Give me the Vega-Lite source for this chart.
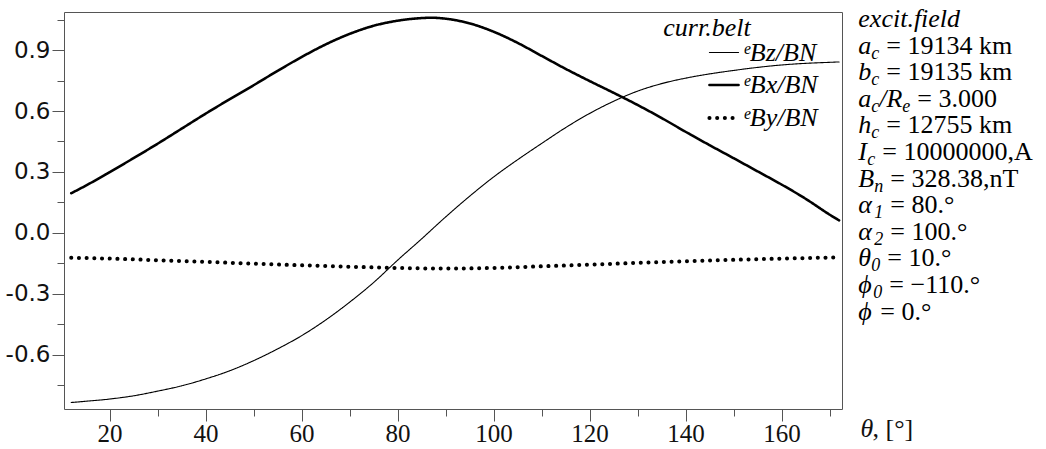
{
  "$schema": "https://vega.github.io/schema/vega-lite/v6.json",
  "autosize": {"type": "none"},
  "width": 778,
  "height": 397,
  "padding": {"left": 64, "top": 12, "right": 204, "bottom": 40},
  "background": "white",
  "config": {
    "view": {"stroke": "#555", "strokeWidth": 1},
    "axis": {"grid": false, "domain": false, "tickColor": "#555", "tickWidth": 1, "labelColor": "#111"}
  },
  "datasets": {
    "curves": [
      {"theta": 12, "s": "ᵉBz/BN", "v": -0.836},
      {"theta": 15, "s": "ᵉBz/BN", "v": -0.830},
      {"theta": 20, "s": "ᵉBz/BN", "v": -0.819},
      {"theta": 25, "s": "ᵉBz/BN", "v": -0.803},
      {"theta": 30, "s": "ᵉBz/BN", "v": -0.780},
      {"theta": 35, "s": "ᵉBz/BN", "v": -0.754},
      {"theta": 40, "s": "ᵉBz/BN", "v": -0.720},
      {"theta": 45, "s": "ᵉBz/BN", "v": -0.680},
      {"theta": 50, "s": "ᵉBz/BN", "v": -0.630},
      {"theta": 55, "s": "ᵉBz/BN", "v": -0.572},
      {"theta": 60, "s": "ᵉBz/BN", "v": -0.507},
      {"theta": 65, "s": "ᵉBz/BN", "v": -0.430},
      {"theta": 70, "s": "ᵉBz/BN", "v": -0.342},
      {"theta": 75, "s": "ᵉBz/BN", "v": -0.245},
      {"theta": 80, "s": "ᵉBz/BN", "v": -0.135},
      {"theta": 85, "s": "ᵉBz/BN", "v": -0.030},
      {"theta": 90, "s": "ᵉBz/BN", "v": 0.078},
      {"theta": 95, "s": "ᵉBz/BN", "v": 0.180},
      {"theta": 100, "s": "ᵉBz/BN", "v": 0.275},
      {"theta": 105, "s": "ᵉBz/BN", "v": 0.360},
      {"theta": 110, "s": "ᵉBz/BN", "v": 0.440},
      {"theta": 115, "s": "ᵉBz/BN", "v": 0.518},
      {"theta": 120, "s": "ᵉBz/BN", "v": 0.588},
      {"theta": 125, "s": "ᵉBz/BN", "v": 0.648},
      {"theta": 130, "s": "ᵉBz/BN", "v": 0.698},
      {"theta": 135, "s": "ᵉBz/BN", "v": 0.735},
      {"theta": 140, "s": "ᵉBz/BN", "v": 0.762},
      {"theta": 145, "s": "ᵉBz/BN", "v": 0.783},
      {"theta": 150, "s": "ᵉBz/BN", "v": 0.800},
      {"theta": 155, "s": "ᵉBz/BN", "v": 0.815},
      {"theta": 160, "s": "ᵉBz/BN", "v": 0.827},
      {"theta": 165, "s": "ᵉBz/BN", "v": 0.835},
      {"theta": 170, "s": "ᵉBz/BN", "v": 0.840},
      {"theta": 172, "s": "ᵉBz/BN", "v": 0.842},
      {"theta": 12, "s": "ᵉBx/BN", "v": 0.195},
      {"theta": 15, "s": "ᵉBx/BN", "v": 0.232},
      {"theta": 20, "s": "ᵉBx/BN", "v": 0.299},
      {"theta": 25, "s": "ᵉBx/BN", "v": 0.368},
      {"theta": 30, "s": "ᵉBx/BN", "v": 0.439},
      {"theta": 35, "s": "ᵉBx/BN", "v": 0.513},
      {"theta": 40, "s": "ᵉBx/BN", "v": 0.587},
      {"theta": 45, "s": "ᵉBx/BN", "v": 0.658},
      {"theta": 50, "s": "ᵉBx/BN", "v": 0.727},
      {"theta": 55, "s": "ᵉBx/BN", "v": 0.798},
      {"theta": 60, "s": "ᵉBx/BN", "v": 0.866},
      {"theta": 65, "s": "ᵉBx/BN", "v": 0.928},
      {"theta": 70, "s": "ᵉBx/BN", "v": 0.980},
      {"theta": 75, "s": "ᵉBx/BN", "v": 1.020},
      {"theta": 80, "s": "ᵉBx/BN", "v": 1.045},
      {"theta": 85, "s": "ᵉBx/BN", "v": 1.058},
      {"theta": 87, "s": "ᵉBx/BN", "v": 1.060},
      {"theta": 90, "s": "ᵉBx/BN", "v": 1.055},
      {"theta": 95, "s": "ᵉBx/BN", "v": 1.032},
      {"theta": 100, "s": "ᵉBx/BN", "v": 0.991},
      {"theta": 105, "s": "ᵉBx/BN", "v": 0.936},
      {"theta": 110, "s": "ᵉBx/BN", "v": 0.872},
      {"theta": 115, "s": "ᵉBx/BN", "v": 0.808},
      {"theta": 120, "s": "ᵉBx/BN", "v": 0.748},
      {"theta": 125, "s": "ᵉBx/BN", "v": 0.690},
      {"theta": 130, "s": "ᵉBx/BN", "v": 0.630},
      {"theta": 135, "s": "ᵉBx/BN", "v": 0.566},
      {"theta": 140, "s": "ᵉBx/BN", "v": 0.498},
      {"theta": 145, "s": "ᵉBx/BN", "v": 0.432},
      {"theta": 150, "s": "ᵉBx/BN", "v": 0.368},
      {"theta": 155, "s": "ᵉBx/BN", "v": 0.303},
      {"theta": 160, "s": "ᵉBx/BN", "v": 0.238},
      {"theta": 165, "s": "ᵉBx/BN", "v": 0.168},
      {"theta": 170, "s": "ᵉBx/BN", "v": 0.090},
      {"theta": 172, "s": "ᵉBx/BN", "v": 0.061},
      {"theta": 12, "s": "ᵉBy/BN", "v": -0.123},
      {"theta": 20, "s": "ᵉBy/BN", "v": -0.127},
      {"theta": 30, "s": "ᵉBy/BN", "v": -0.135},
      {"theta": 40, "s": "ᵉBy/BN", "v": -0.143},
      {"theta": 50, "s": "ᵉBy/BN", "v": -0.152},
      {"theta": 60, "s": "ᵉBy/BN", "v": -0.160},
      {"theta": 70, "s": "ᵉBy/BN", "v": -0.167},
      {"theta": 80, "s": "ᵉBy/BN", "v": -0.173},
      {"theta": 90, "s": "ᵉBy/BN", "v": -0.176},
      {"theta": 100, "s": "ᵉBy/BN", "v": -0.173},
      {"theta": 110, "s": "ᵉBy/BN", "v": -0.165},
      {"theta": 120, "s": "ᵉBy/BN", "v": -0.157},
      {"theta": 130, "s": "ᵉBy/BN", "v": -0.148},
      {"theta": 140, "s": "ᵉBy/BN", "v": -0.140},
      {"theta": 150, "s": "ᵉBy/BN", "v": -0.133},
      {"theta": 160, "s": "ᵉBy/BN", "v": -0.127},
      {"theta": 172, "s": "ᵉBy/BN", "v": -0.121}
    ],
    "params": [
      {"line": 0, "s1": "excit.field", "b1": "", "s2": "", "b2": "", "r": ""},
      {"line": 1, "s1": "a", "b1": "c", "s2": "", "b2": "", "r": "= 19134 km"},
      {"line": 2, "s1": "b", "b1": "c", "s2": "", "b2": "", "r": "= 19135 km"},
      {"line": 3, "s1": "a", "b1": "c", "s2": "/R", "b2": "e", "r": "= 3.000"},
      {"line": 4, "s1": "h", "b1": "c", "s2": "", "b2": "", "r": "= 12755 km"},
      {"line": 5, "s1": "I", "b1": "c", "s2": "", "b2": "", "r": "= 10000000,A"},
      {"line": 6, "s1": "B", "b1": "n", "s2": "", "b2": "", "r": "= 328.38,nT"},
      {"line": 7, "s1": "α", "b1": "1", "s2": "", "b2": "", "r": "= 80.°"},
      {"line": 8, "s1": "α", "b1": "2", "s2": "", "b2": "", "r": "= 100.°"},
      {"line": 9, "s1": "θ", "b1": "0", "s2": "", "b2": "", "r": "= 10.°"},
      {"line": 10, "s1": "ϕ", "b1": "0", "s2": "", "b2": "", "r": "= −110.°"},
      {"line": 11, "s1": "ϕ", "b1": "", "s2": "", "b2": "", "r": "= 0.°"}
    ]
  },
  "layer": [
    {
      "data": {"name": "curves"},
      "mark": {"type": "line", "strokeCap": "round", "strokeJoin": "round", "interpolate": "monotone"},
      "encoding": {
        "x": {"field": "theta", "type": "quantitative",
          "scale": {"domain": [10.5, 172.6], "nice": false, "zero": false},
          "axis": {"values": [20, 40, 60, 80, 100, 120, 140, 160], "tickSize": 12, "labelFont": "Liberation Sans Narrow", "labelFontSize": 25, "labelPadding": 0, "labelFlush": false,
            "title": ", [°]", "titleFont": "Liberation Serif", "titleFontSize": 26, "titleFontWeight": "normal", "titleColor": "#111", "titleX": 808, "titleY": 27, "titleAlign": "left", "titleBaseline": "alphabetic", "titleAngle": 0}},
        "y": {"field": "v", "type": "quantitative",
          "scale": {"domain": [-0.868, 1.088], "nice": false, "zero": false},
          "axis": {"values": [-0.6, -0.3, 0, 0.3, 0.6, 0.9], "labelExpr": "replace(format(datum.value, '.1f'), '\u2212', '-')", "tickSize": 12, "labelFont": "DejaVu Sans", "labelFontSize": 23, "labelPadding": 2, "title": null}},
        "color": {"field": "s", "type": "ordinal",
          "scale": {"domain": ["ᵉBz/BN", "ᵉBx/BN", "ᵉBy/BN"], "range": ["#000", "#000", "#000"]},
          "legend": {"title": "curr.belt", "orient": "none", "legendX": 599, "legendY": 3,
            "symbolType": "stroke", "symbolSize": 850, "symbolStrokeColor": "#000",
            "titleFont": "Liberation Serif", "titleFontStyle": "italic", "titleFontSize": 26, "titleFontWeight": "normal", "titleColor": "#000", "titleAnchor": "start", "titleAlign": "center", "titlePadding": -4,
            "labelFont": "Liberation Serif", "labelFontStyle": "italic", "labelFontSize": 26, "labelColor": "#000", "labelOffset": 2, "rowPadding": 3,
            "encode": {"symbols": {"update": {"strokeCap": {"value": "round"}}}}}},
        "strokeDash": {"field": "s", "type": "ordinal",
          "scale": {"domain": ["ᵉBz/BN", "ᵉBx/BN", "ᵉBy/BN"], "range": [[1, 0], [1, 0], [0.1, 7.6]]}},
        "strokeWidth": {"field": "s", "type": "ordinal",
          "scale": {"domain": ["ᵉBz/BN", "ᵉBx/BN", "ᵉBy/BN"], "range": [1.1, 4, 3.6]}}
      }
    },
    {
      "data": {"values": [{"k": 1}]},
      "mark": {"type": "point", "opacity": 0},
      "encoding": {
        "x": {"datum": 20, "type": "quantitative",
          "axis": {"orient": "bottom", "values": [30, 50, 70, 90, 110, 130, 150, 170], "tickSize": 7, "labels": false,
            "title": "θ", "titleFont": "Liberation Serif", "titleFontSize": 26, "titleFontWeight": "normal", "titleFontStyle": "italic", "titleColor": "#111", "titleX": 796, "titleY": 27, "titleAlign": "left", "titleBaseline": "alphabetic", "titleAngle": 0}},
        "y": {"datum": 0, "type": "quantitative",
          "scale": {"domain": [-0.868, 1.088], "nice": false, "zero": false},
          "axis": {"orient": "left", "values": [-0.75, -0.45, -0.15, 0.15, 0.45, 0.75, 1.05], "tickSize": 7, "labels": false, "title": null}}
      }
    },
    {
      "data": {"name": "params"},
      "layer": [
        {
          "mark": {"type": "text", "font": "Liberation Serif", "fontSize": 26, "fontStyle": "italic", "align": "left", "baseline": "alphabetic", "color": "#000"},
          "encoding": {"text": {"field": "s1"}}
        },
        {
          "mark": {"type": "text", "font": "Liberation Serif", "fontSize": 18, "fontStyle": "italic", "align": "left", "baseline": "alphabetic", "color": "#000", "dy": 5,
            "dx": {"expr": "(datum.s1=='I'?9:datum.s1=='B'?16:datum.s1=='α'?16:datum.s1=='ϕ'?15:13)"}},
          "encoding": {"text": {"field": "b1"}}
        },
        {
          "mark": {"type": "text", "font": "Liberation Serif", "fontSize": 26, "fontStyle": "italic", "align": "left", "baseline": "alphabetic", "color": "#000",
            "dx": {"expr": "(datum.s1=='I'?9:datum.s1=='B'?16:datum.s1=='α'?16:datum.s1=='ϕ'?15:13) + (datum.b1==''?0:datum.b1=='c'?8:9)"}},
          "encoding": {"text": {"field": "s2"}}
        },
        {
          "mark": {"type": "text", "font": "Liberation Serif", "fontSize": 18, "fontStyle": "italic", "align": "left", "baseline": "alphabetic", "color": "#000", "dy": 5,
            "dx": {"expr": "(datum.s1=='I'?9:datum.s1=='B'?16:datum.s1=='α'?16:datum.s1=='ϕ'?15:13) + (datum.b1==''?0:datum.b1=='c'?8:9) + 23"}},
          "encoding": {"text": {"field": "b2"}}
        },
        {
          "mark": {"type": "text", "font": "Liberation Serif", "fontSize": 26, "align": "left", "baseline": "alphabetic", "color": "#000",
            "dx": {"expr": "(datum.s1=='I'?9:datum.s1=='B'?16:datum.s1=='α'?16:datum.s1=='ϕ'?15:13) + (datum.b1==''?0:datum.b1=='c'?8:9) + (datum.s2==''?0:31) + 7"}},
          "encoding": {"text": {"field": "r"}}
        }
      ],
      "encoding": {
        "x": {"datum": 176, "type": "quantitative", "axis": null},
        "y": {"field": "line", "type": "quantitative", "axis": null,
          "scale": {"domain": [-0.564, 14.361], "reverse": true, "nice": false, "zero": false}}
      }
    }
  ],
  "resolve": {"scale": {"y": "independent"}, "axis": {"x": "independent", "y": "independent"}}
}
